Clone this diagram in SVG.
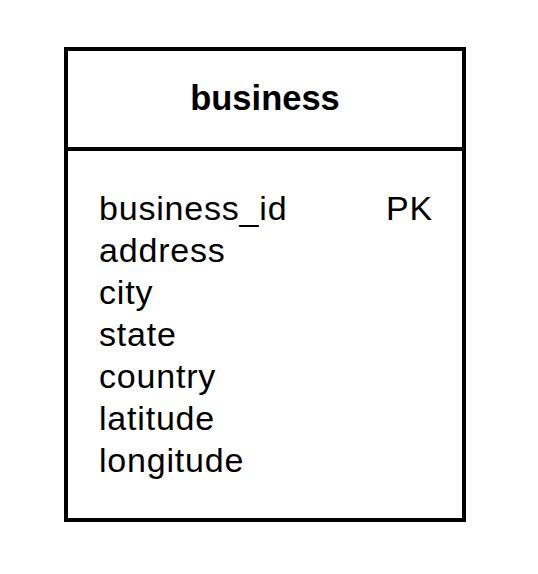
<svg xmlns="http://www.w3.org/2000/svg" width="538" height="574" viewBox="0 0 538 574">
<style>
.box{fill:#fff;stroke:#000;stroke-width:4}
.t{font-family:"Liberation Sans",Arial,sans-serif;font-size:34px;letter-spacing:0.8px;fill:#000}
.h{font-family:"Liberation Sans",Arial,sans-serif;font-size:34.5px;font-weight:bold;fill:#000}
</style>
<rect width="538" height="574" fill="#fff"/>
<g id="business">
<rect class="box" x="66" y="49" width="398" height="471"/>
<line x1="66" y1="149" x2="464" y2="149" stroke="#000" stroke-width="4"/>
<text class="h" x="265" y="110" text-anchor="middle">business</text>
<text class="t" x="99" y="220">business_id</text>
<text class="t" x="386" y="220" letter-spacing="-0.5">PK</text>
<text class="t" x="99" y="262">address</text>
<text class="t" x="99" y="304">city</text>
<text class="t" x="99" y="346">state</text>
<text class="t" x="99" y="388">country</text>
<text class="t" x="99" y="430">latitude</text>
<text class="t" x="99" y="472">longitude</text>
</g>
<g id="connectors"/>
</svg>
